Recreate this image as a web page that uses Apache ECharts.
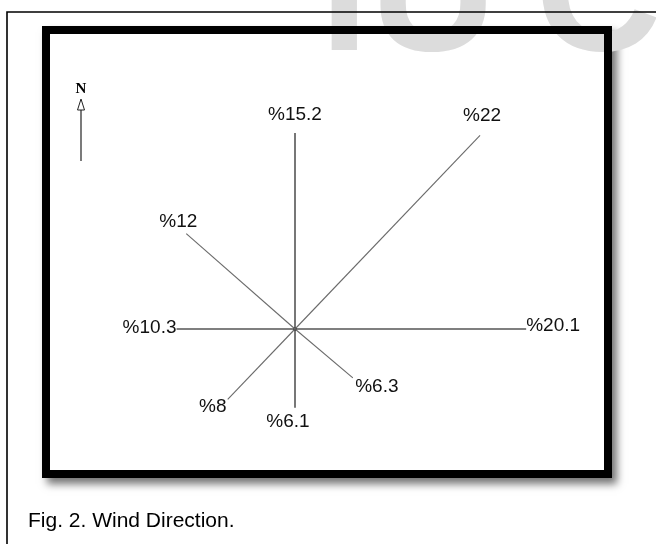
<!DOCTYPE html>
<html lang="en">
<head>
    <meta charset="UTF-8">
    <title>Wind Direction</title>
    <script src="https://cdn.jsdelivr.net/npm/echarts@6/dist/echarts.min.js"></script>
    <style>
        html, body { margin: 0; padding: 0; background: #fff; }
        #main { width: 656px; height: 544px; }
    </style>
</head>
<body>
<div id="main"></div>
<script type="text/javascript">
    // data
    var directions = ['N', 'NE', 'E', 'SE', 'S', 'SW', 'W', 'NW'];
    var frequency = [15.2, 22, 20.1, 6.3, 6.1, 8, 10.3, 12];
    // bearing of each ray as it is drawn (degrees clockwise from north)
    var bearings = [0, 47, 90, 127, 180, 227, 270, 308];

    // label placement relative to the end of each ray
    var labelOffset = [[0, -18], [2, -20], [27, -3], [24, 9], [-7, 14], [-15, 7], [-27, -1], [-8, -12]];

    var myChart = echarts.init(document.getElementById('main'));

    function rayEnd(i) {
        var v = frequency[i];
        var rad = bearings[i] * Math.PI / 180;
        return [v * Math.sin(rad), v * Math.cos(rad)];
    }

    var series = directions.map(function (d, i) {
        var main = bearings[i] % 90 === 0;
        return {
            name: d,
            type: 'line',
            symbol: 'none',
            silent: true,
            lineStyle: { color: main ? '#555' : '#6a6a6a', width: main ? 1.6 : 1.1 },
            data: [[0, 0], rayEnd(i)]
        };
    });

    // value labels at the end of each ray
    series.push({
        type: 'scatter',
        symbolSize: 0,
        silent: true,
        itemStyle: { color: '#000', opacity: 1 },
        data: directions.map(function (d, i) {
            return {
                name: d,
                value: rayEnd(i),
                label: {
                    show: true,
                    position: 'inside',
                    offset: labelOffset[i],
                    formatter: '%' + frequency[i],
                    color: '#111',
                    fontFamily: 'Liberation Sans',
                    fontSize: 19,
                    align: 'center',
                    verticalAlign: 'middle'
                }
            };
        })
    });

    // centre dot
    series.push({
        type: 'scatter',
        symbolSize: 4,
        silent: true,
        itemStyle: { color: '#000', opacity: 1 },
        data: [[0, 0]]
    });

    var option = {
        animation: false,
        backgroundColor: '#fff',
        grid: { left: 122.5, top: 71, width: 460, height: 387 },
        xAxis: { type: 'value', min: -15, max: 25, show: false },
        yAxis: { type: 'value', min: -10, max: 20, show: false },
        graphic: [
            // white card with drop shadow
            {
                type: 'rect', z: -10,
                shape: { x: 42, y: 26, width: 570, height: 452 },
                style: { fill: '#fff', shadowBlur: 8, shadowOffsetX: 5, shadowOffsetY: 6, shadowColor: 'rgba(0,0,0,0.55)' }
            },
            // faint watermark letters
            { type: 'text', z: -5, left: 320, top: -86, style: { text: 'I', fill: '#dcdcdc', font: 'bold 175px "Liberation Sans"' } },
            { type: 'text', z: -5, left: 370, top: -86, style: { text: 'U', fill: '#dcdcdc', font: 'bold 175px "Liberation Sans"' } },
            { type: 'text', z: -5, left: 535, top: -86, style: { text: 'C', fill: '#dcdcdc', font: 'bold 175px "Liberation Sans"' } },
            // thick black border
            {
                type: 'rect', z: -1,
                shape: { x: 46, y: 30, width: 562, height: 444 },
                style: { fill: null, stroke: '#000', lineWidth: 8 }
            },
            // page frame (top and left)
            {
                type: 'polyline', z: -1,
                shape: { points: [[7, 544], [7, 12], [656, 12]] },
                style: { stroke: '#000', lineWidth: 1.6, fill: null }
            },
            // north arrow
            {
                type: 'line', z: 5,
                shape: { x1: 81, y1: 161, x2: 81, y2: 109 },
                style: { stroke: '#222', lineWidth: 1.2 }
            },
            {
                type: 'polygon', z: 5,
                shape: { points: [[81, 99], [77.5, 110], [84.5, 110]] },
                style: { fill: '#fff', stroke: '#222', lineWidth: 1 }
            },
            {
                type: 'text', z: 5, x: 81, y: 89,
                style: { text: 'N', fill: '#000', font: 'bold 15px "Liberation Serif"', align: 'center', verticalAlign: 'middle' }
            },
            // caption
            {
                type: 'text', z: 5, x: 28, y: 521,
                style: { text: 'Fig. 2. Wind Direction.', fill: '#000', font: '21px "Liberation Sans"', verticalAlign: 'middle' }
            }
        ],
        series: series
    };
    myChart.setOption(option);
</script>
</body>
</html>
